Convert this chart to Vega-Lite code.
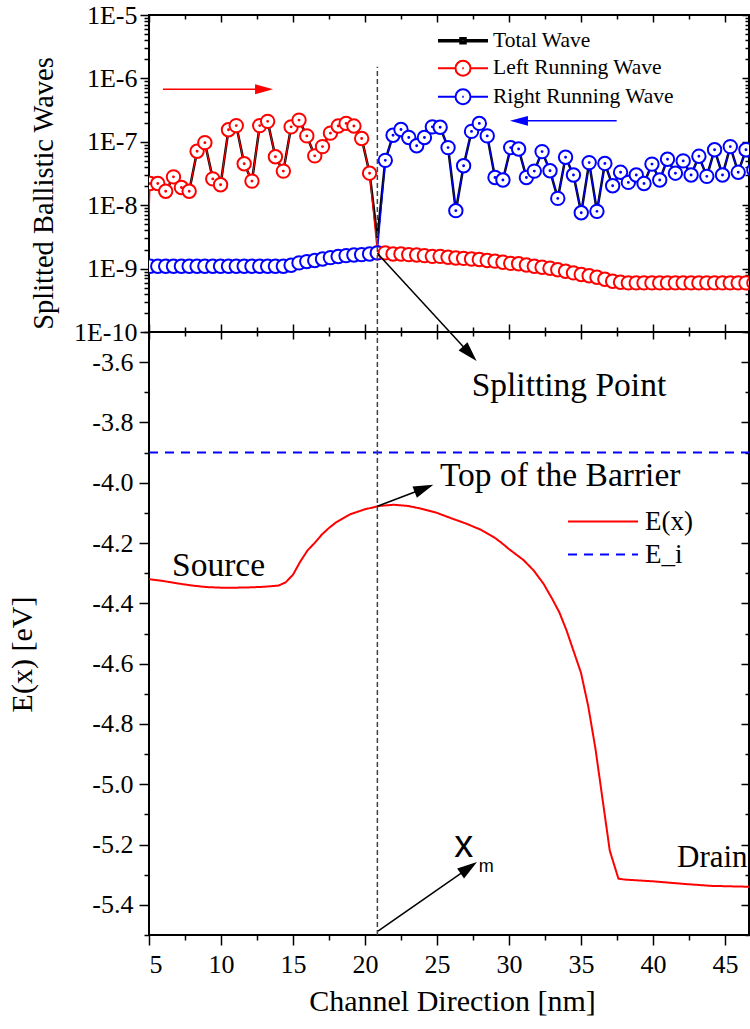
{
  "$schema": "https://vega.github.io/schema/vega-lite/v6.json",
  "background": "white",
  "padding": {"left": 6, "top": 1, "right": 0, "bottom": 0},
  "spacing": 0,
  "bounds": "flush",
  "config": {
    "font": "Liberation Serif",
    "view": {"stroke": "black", "strokeWidth": 2},
    "axis": {"grid": false, "domain": false, "labelFont": "Liberation Serif", "labelFontSize": 26, "labelColor": "black", "tickColor": "black", "tickWidth": 1.5, "titleFont": "Liberation Serif", "titleFontSize": 28, "titleFontWeight": "normal", "titleColor": "black"},
    "legend": {"labelFont": "Liberation Serif", "labelColor": "black", "padding": 0, "labelLimit": 400}
  },
  "resolve": {"scale": {"stroke": "independent", "strokeDash": "independent"}, "legend": {"stroke": "independent", "strokeDash": "independent"}},
  "datasets": {
    "waves": [
      {"x":4.53,"L":1e-12,"R":1.09e-9},
      {"x":5.07,"T":2.2e-8,"L":2.2e-8,"R":1.09e-9},
      {"x":5.61,"T":2.2e-8,"L":2.2e-8,"R":1.09e-9},
      {"x":6.16,"T":1.66e-8,"L":1.66e-8,"R":1.09e-9},
      {"x":6.70,"T":2.8e-8,"L":2.8e-8,"R":1.09e-9},
      {"x":7.25,"T":1.9e-8,"L":1.9e-8,"R":1.09e-9},
      {"x":7.79,"T":1.66e-8,"L":1.66e-8,"R":1.09e-9},
      {"x":8.34,"T":7.1e-8,"L":7.1e-8,"R":1.09e-9},
      {"x":8.88,"T":9.7e-8,"L":9.7e-8,"R":1.09e-9},
      {"x":9.43,"T":2.6e-8,"L":2.6e-8,"R":1.09e-9},
      {"x":9.97,"T":2.1e-8,"L":2.1e-8,"R":1.09e-9},
      {"x":10.52,"T":1.55e-7,"L":1.55e-7,"R":1.09e-9},
      {"x":11.06,"T":1.8e-7,"L":1.8e-7,"R":1.09e-9},
      {"x":11.61,"T":4.5e-8,"L":4.5e-8,"R":1.09e-9},
      {"x":12.15,"T":2.4e-8,"L":2.4e-8,"R":1.09e-9},
      {"x":12.69,"T":1.8e-7,"L":1.8e-7,"R":1.09e-9},
      {"x":13.24,"T":2.1e-7,"L":2.1e-7,"R":1.09e-9},
      {"x":13.78,"T":5.8e-8,"L":5.8e-8,"R":1.09e-9},
      {"x":14.33,"T":3.45e-8,"L":3.45e-8,"R":1.09e-9},
      {"x":14.87,"T":1.72e-7,"L":1.72e-7,"R":1.13e-9},
      {"x":15.42,"T":2.2e-7,"L":2.2e-7,"R":1.23e-9},
      {"x":15.96,"T":1.24e-7,"L":1.24e-7,"R":1.29e-9},
      {"x":16.51,"T":6.0e-8,"L":6.0e-8,"R":1.34e-9},
      {"x":17.05,"T":8.4e-8,"L":8.4e-8,"R":1.42e-9},
      {"x":17.60,"T":1.37e-7,"L":1.37e-7,"R":1.49e-9},
      {"x":18.14,"T":1.77e-7,"L":1.77e-7,"R":1.55e-9},
      {"x":18.69,"T":1.95e-7,"L":1.95e-7,"R":1.60e-9},
      {"x":19.23,"T":1.77e-7,"L":1.77e-7,"R":1.64e-9},
      {"x":19.77,"T":1.13e-7,"L":1.13e-7,"R":1.66e-9},
      {"x":20.32,"T":3.2e-8,"L":3.2e-8,"R":1.70e-9},
      {"x":20.86,"T":3.0e-9,"L":1.77e-9,"R":1.77e-9},
      {"x":21.41,"T":5.1e-8,"L":1.77e-9,"R":5.1e-8},
      {"x":21.95,"T":1.27e-7,"L":1.70e-9,"R":1.27e-7},
      {"x":22.50,"T":1.56e-7,"L":1.70e-9,"R":1.56e-7},
      {"x":23.04,"T":1.17e-7,"L":1.66e-9,"R":1.17e-7},
      {"x":23.59,"T":8.65e-8,"L":1.64e-9,"R":8.65e-8},
      {"x":24.13,"T":1.17e-7,"L":1.60e-9,"R":1.17e-7},
      {"x":24.68,"T":1.72e-7,"L":1.56e-9,"R":1.72e-7},
      {"x":25.22,"T":1.70e-7,"L":1.56e-9,"R":1.70e-7},
      {"x":25.77,"T":8.1e-8,"L":1.51e-9,"R":8.1e-8},
      {"x":26.31,"T":8.2e-9,"L":1.47e-9,"R":8.2e-9},
      {"x":26.85,"T":4.2e-8,"L":1.45e-9,"R":4.2e-8},
      {"x":27.40,"T":1.46e-7,"L":1.42e-9,"R":1.46e-7},
      {"x":27.94,"T":1.95e-7,"L":1.39e-9,"R":1.95e-7},
      {"x":28.49,"T":1.24e-7,"L":1.34e-9,"R":1.24e-7},
      {"x":29.03,"T":2.74e-8,"L":1.31e-9,"R":2.74e-8},
      {"x":29.58,"T":2.5e-8,"L":1.26e-9,"R":2.5e-8},
      {"x":30.12,"T":8.1e-8,"L":1.21e-9,"R":8.1e-8},
      {"x":30.67,"T":7.7e-8,"L":1.19e-9,"R":7.7e-8},
      {"x":31.21,"T":2.74e-8,"L":1.14e-9,"R":2.74e-8},
      {"x":31.76,"T":3.45e-8,"L":1.09e-9,"R":3.45e-8},
      {"x":32.30,"T":7.0e-8,"L":1.05e-9,"R":7.0e-8},
      {"x":32.85,"T":3.5e-8,"L":1.01e-9,"R":3.5e-8},
      {"x":33.39,"T":1.28e-8,"L":9.6e-10,"R":1.28e-8},
      {"x":33.93,"T":5.7e-8,"L":9.1e-10,"R":5.7e-8},
      {"x":34.48,"T":3.0e-8,"L":8.55e-10,"R":3.0e-8},
      {"x":35.02,"T":7.6e-9,"L":8.05e-10,"R":7.6e-9},
      {"x":35.57,"T":4.7e-8,"L":7.7e-10,"R":4.7e-8},
      {"x":36.11,"T":8.0e-9,"L":7.3e-10,"R":8.0e-9},
      {"x":36.66,"T":4.56e-8,"L":6.8e-10,"R":4.56e-8},
      {"x":37.20,"T":2.03e-8,"L":6.3e-10,"R":2.03e-8},
      {"x":37.75,"T":3.3e-8,"L":6.1e-10,"R":3.3e-8},
      {"x":38.29,"T":2.29e-8,"L":5.95e-10,"R":2.29e-8},
      {"x":38.84,"T":3.0e-8,"L":5.95e-10,"R":3.0e-8},
      {"x":39.38,"T":2.2e-8,"L":5.95e-10,"R":2.2e-8},
      {"x":39.93,"T":4.45e-8,"L":5.95e-10,"R":4.45e-8},
      {"x":40.47,"T":2.5e-8,"L":5.95e-10,"R":2.5e-8},
      {"x":41.01,"T":5.3e-8,"L":5.95e-10,"R":5.3e-8},
      {"x":41.56,"T":3.2e-8,"L":5.95e-10,"R":3.2e-8},
      {"x":42.10,"T":5.0e-8,"L":5.95e-10,"R":5.0e-8},
      {"x":42.65,"T":3.0e-8,"L":5.95e-10,"R":3.0e-8},
      {"x":43.19,"T":5.9e-8,"L":5.95e-10,"R":5.9e-8},
      {"x":43.74,"T":2.85e-8,"L":5.95e-10,"R":2.85e-8},
      {"x":44.28,"T":7.5e-8,"L":5.95e-10,"R":7.5e-8},
      {"x":44.83,"T":3.0e-8,"L":5.95e-10,"R":3.0e-8},
      {"x":45.37,"T":8.4e-8,"L":5.95e-10,"R":8.4e-8},
      {"x":45.92,"T":3.3e-8,"L":5.95e-10,"R":3.3e-8},
      {"x":46.46,"T":7.5e-8,"L":5.95e-10,"R":7.5e-8},
      {"x":47.01,"T":3.6e-8,"L":5.95e-10,"R":3.6e-8}
    ],
    "arrowsTop": [
      {"id":"red","x":5.97,"xe":12.99,"y":6.76e-7},
      {"id":"blue","x":37.48,"xe":30.69,"y":2.14e-7}
    ],
    "energy": [
      {"x":5,"E":-4.32,"name":"E(x)"},{"x":6,"E":-4.326,"name":"E(x)"},{"x":7,"E":-4.334,"name":"E(x)"},{"x":8,"E":-4.341,"name":"E(x)"},
      {"x":9,"E":-4.346,"name":"E(x)"},{"x":10,"E":-4.348,"name":"E(x)"},{"x":11,"E":-4.348,"name":"E(x)"},{"x":12,"E":-4.347,"name":"E(x)"},
      {"x":13,"E":-4.345,"name":"E(x)"},{"x":14,"E":-4.341,"name":"E(x)"},{"x":14.5,"E":-4.33,"name":"E(x)"},{"x":15,"E":-4.305,"name":"E(x)"},
      {"x":15.5,"E":-4.262,"name":"E(x)"},{"x":16,"E":-4.225,"name":"E(x)"},{"x":16.5,"E":-4.2,"name":"E(x)"},{"x":17,"E":-4.172,"name":"E(x)"},
      {"x":17.5,"E":-4.15,"name":"E(x)"},{"x":18,"E":-4.131,"name":"E(x)"},{"x":19,"E":-4.104,"name":"E(x)"},{"x":20,"E":-4.088,"name":"E(x)"},
      {"x":21,"E":-4.077,"name":"E(x)"},{"x":22,"E":-4.073,"name":"E(x)"},{"x":23,"E":-4.077,"name":"E(x)"},{"x":24,"E":-4.087,"name":"E(x)"},
      {"x":25,"E":-4.1,"name":"E(x)"},{"x":26,"E":-4.118,"name":"E(x)"},{"x":27,"E":-4.135,"name":"E(x)"},{"x":28,"E":-4.155,"name":"E(x)"},
      {"x":29,"E":-4.182,"name":"E(x)"},{"x":29.5,"E":-4.2,"name":"E(x)"},{"x":30,"E":-4.22,"name":"E(x)"},{"x":31,"E":-4.256,"name":"E(x)"},
      {"x":31.7,"E":-4.29,"name":"E(x)"},{"x":32.4,"E":-4.335,"name":"E(x)"},{"x":33,"E":-4.385,"name":"E(x)"},{"x":33.5,"E":-4.43,"name":"E(x)"},
      {"x":34,"E":-4.49,"name":"E(x)"},{"x":34.5,"E":-4.56,"name":"E(x)"},{"x":35,"E":-4.63,"name":"E(x)"},{"x":35.5,"E":-4.74,"name":"E(x)"},
      {"x":36,"E":-4.88,"name":"E(x)"},{"x":36.5,"E":-5.05,"name":"E(x)"},{"x":37,"E":-5.22,"name":"E(x)"},{"x":37.6,"E":-5.313,"name":"E(x)"},
      {"x":38,"E":-5.316,"name":"E(x)"},{"x":40,"E":-5.322,"name":"E(x)"},{"x":42,"E":-5.33,"name":"E(x)"},{"x":44,"E":-5.337,"name":"E(x)"},
      {"x":46.7,"E":-5.34,"name":"E(x)"},
      {"x":5,"E":-3.9,"name":"E_i"},{"x":46.7,"E":-3.9,"name":"E_i"}
    ],
    "arrowsBottom": [
      {"id":"split","x":20.86,"y":-3.239,"xe":27.28,"ye":-3.572},
      {"id":"barrier","x":20.86,"y":-4.078,"xe":24.10,"ye":-4.019},
      {"id":"xm","x":20.9,"y":-5.487,"xe":27.21,"ye":-5.277}
    ],
    "notes": [
      {"t":"Splitting Point","x":27.41,"y":-3.712},
      {"t":"Top of the Barrier","x":25.21,"y":-4.011},
      {"t":"Source","x":6.6,"y":-4.31},
      {"t":"Drain","x":41.67,"y":-5.273}
    ],
    "xm": [
      {"t":"x","x":26.2,"y":-5.24},
      {"t":"m","x":27.9,"y":-5.29}
    ]
  },
  "vconcat": [
    {
      "width": 600,
      "height": 317,
      "resolve": {"axis": {"x": "independent", "y": "independent"}},
      "layer": [
        {
          "data": {"name": "waves"},
          "transform": [{"fold": ["T", "L", "R"], "as": ["key", "v"]}, {"filter": "datum.key == 'T'"}],
          "mark": {"type": "line", "strokeWidth": 2.5, "clip": true},
          "encoding": {
            "x": {"field": "x", "type": "quantitative", "scale": {"domain": [5, 46.67], "nice": false, "zero": false},
              "axis": {"orient": "bottom", "values": [5,7.5,10,12.5,15,17.5,20,22.5,25,27.5,30,32.5,35,37.5,40,42.5,45], "labels": false, "title": null,
                "tickSize": {"condition": {"test": "datum.value % 5 == 0", "value": -8}, "value": -5}}},
            "y": {"field": "v", "type": "quantitative", "scale": {"type": "log", "domain": [1e-10, 1e-5], "nice": false},
              "axis": {"orient": "left", "title": "Splitted Ballistic Waves", "titleFont": "Liberation Serif", "titleFontSize": 28.5, "titleX": -97, "titleY": 178, "titleBaseline": "alphabetic", "titleAngle": -90, "titleAlign": "center",
                "labelFont": "Liberation Serif", "labelFontSize": 26, "labelPadding": 3,
                "values": [1e-10,2e-10,3e-10,4e-10,5e-10,6e-10,7e-10,8e-10,9e-10,1e-9,2e-9,3e-9,4e-9,5e-9,6e-9,7e-9,8e-9,9e-9,1e-8,2e-8,3e-8,4e-8,5e-8,6e-8,7e-8,8e-8,9e-8,1e-7,2e-7,3e-7,4e-7,5e-7,6e-7,7e-7,8e-7,9e-7,1e-6,2e-6,3e-6,4e-6,5e-6,6e-6,7e-6,8e-6,9e-6,1e-5],
                "labelExpr": "abs(log(datum.value)/LN10 - round(log(datum.value)/LN10)) < 0.01 ? '1E' + round(log(datum.value)/LN10) : ''",
                "tickSize": {"condition": {"test": "abs(log(datum.value)/LN10 - round(log(datum.value)/LN10)) < 0.01", "value": 9}, "value": 5}}},
            "stroke": {"field": "key", "type": "nominal", "scale": {"domain": ["T", "L", "R"], "range": ["black", "red", "blue"]},
              "legend": {"title": null, "orient": "none", "legendX": 289, "legendY": 15, "labelFont": "Liberation Serif", "labelFontSize": 21.5, "labelOffset": 6, "rowPadding": 4.5,
                "symbolSize": 2500, "symbolStrokeWidth": 2, "symbolFillColor": "white", "symbolOpacity": 1,
                "labelExpr": "datum.label == 'T' ? 'Total Wave' : datum.label == 'L' ? 'Left Running Wave' : 'Right Running Wave'",
                "encode": {
                  "symbols": {"update": {
                    "x": {"value": 25},
                    "shape": {"signal": "datum.value == 'T' ? 'M-1,0L-0.08,0M0.08,0L1,0M-0.08,-0.08L0.08,-0.08L0.08,0.08L-0.08,0.08Z' : 'M-1,0L-0.3,0M0.3,0L1,0M-0.3,0A0.3,0.3,0,1,1,0.3,0A0.3,0.3,0,1,1,-0.3,0M-0.03,0L0.03,0'"},
                    "strokeWidth": {"signal": "datum.value == 'T' ? 3.5 : 2"},
                    "fill": {"value": "white"}}},
                  "labels": {"update": {"x": {"value": 55}}}}}}
          }
        },
        {
          "data": {"name": "waves"},
          "transform": [{"fold": ["T", "L", "R"], "as": ["key", "v"]}, {"filter": "datum.key != 'T'"}],
          "mark": {"type": "line", "strokeWidth": 1.2, "clip": true},
          "encoding": {
            "x": {"field": "x", "type": "quantitative", "scale": {"domain": [5, 46.67], "nice": false, "zero": false}, "axis": null},
            "y": {"field": "v", "type": "quantitative", "scale": {"type": "log", "domain": [1e-10, 1e-5], "nice": false}, "axis": null},
            "stroke": {"field": "key", "type": "nominal", "scale": {"domain": ["T", "L", "R"], "range": ["black", "red", "blue"]}}
          }
        },
        {
          "data": {"name": "waves"},
          "transform": [{"fold": ["T", "L", "R"], "as": ["key", "v"]}, {"filter": "datum.key != 'T'"}],
          "mark": {"type": "point", "shape": "circle", "size": 180, "filled": true, "fill": "white", "strokeWidth": 2, "opacity": 1, "clip": true},
          "encoding": {
            "x": {"field": "x", "type": "quantitative", "scale": {"domain": [5, 46.67], "nice": false, "zero": false}, "axis": null},
            "y": {"field": "v", "type": "quantitative", "scale": {"type": "log", "domain": [1e-10, 1e-5], "nice": false}, "axis": null},
            "stroke": {"field": "key", "type": "nominal", "scale": {"domain": ["T", "L", "R"], "range": ["black", "red", "blue"]}}
          }
        },
        {
          "data": {"name": "waves"},
          "transform": [{"fold": ["T", "L", "R"], "as": ["key", "v"]}, {"filter": "(datum.key == 'L' && datum.x < 20.5) || (datum.key == 'R' && datum.x > 21)"}],
          "mark": {"type": "point", "shape": "circle", "size": 2, "filled": false, "strokeWidth": 1.5, "opacity": 1, "clip": true},
          "encoding": {
            "x": {"field": "x", "type": "quantitative", "scale": {"domain": [5, 46.67], "nice": false, "zero": false}, "axis": null},
            "y": {"field": "v", "type": "quantitative", "scale": {"type": "log", "domain": [1e-10, 1e-5], "nice": false}, "axis": null},
            "stroke": {"field": "key", "type": "nominal", "scale": {"domain": ["T", "L", "R"], "range": ["black", "red", "blue"]}}
          }
        },
        {
          "data": {"values": [{"x": 20.86, "y": 1e-10, "y2": 1.53e-6}]},
          "mark": {"type": "rule", "color": "#444444", "strokeWidth": 1.5, "strokeDash": [5, 3]},
          "encoding": {
            "x": {"field": "x", "type": "quantitative", "scale": {"domain": [5, 46.67], "nice": false, "zero": false},
              "axis": {"orient": "top", "values": [5,7.5,10,12.5,15,17.5,20,22.5,25,27.5,30,32.5,35,37.5,40,42.5,45], "labels": false, "title": null,
                "tickSize": {"condition": {"test": "datum.value % 5 == 0", "value": -7}, "value": -4}}},
            "y": {"field": "y", "type": "quantitative", "scale": {"type": "log", "domain": [1e-10, 1e-5], "nice": false},
              "axis": {"orient": "right", "labels": false, "title": null,
                "values": [1e-10,2e-10,3e-10,4e-10,5e-10,6e-10,7e-10,8e-10,9e-10,1e-9,2e-9,3e-9,4e-9,5e-9,6e-9,7e-9,8e-9,9e-9,1e-8,2e-8,3e-8,4e-8,5e-8,6e-8,7e-8,8e-8,9e-8,1e-7,2e-7,3e-7,4e-7,5e-7,6e-7,7e-7,8e-7,9e-7,1e-6,2e-6,3e-6,4e-6,5e-6,6e-6,7e-6,8e-6,9e-6,1e-5],
                "tickSize": {"condition": {"test": "abs(log(datum.value)/LN10 - round(log(datum.value)/LN10)) < 0.01", "value": -7}, "value": -4}}},
            "y2": {"field": "y2"}
          }
        },
        {
          "data": {"name": "arrowsTop"},
          "mark": {"type": "rule", "strokeWidth": 1.5},
          "encoding": {
            "x": {"field": "x", "type": "quantitative", "scale": {"domain": [5, 46.67], "nice": false, "zero": false}, "axis": null},
            "x2": {"field": "xe"},
            "y": {"field": "y", "type": "quantitative", "scale": {"type": "log", "domain": [1e-10, 1e-5], "nice": false}, "axis": null},
            "stroke": {"condition": {"test": "datum.id == 'red'", "value": "red"}, "value": "blue"}
          }
        },
        {
          "data": {"name": "arrowsTop"},
          "mark": {"type": "point", "shape": "M1,0L-1,-0.55L-1,0.55Z", "size": 324, "filled": true, "opacity": 1, "strokeWidth": 0},
          "encoding": {
            "x": {"field": "xe", "type": "quantitative", "scale": {"domain": [5, 46.67], "nice": false, "zero": false}, "axis": null},
            "y": {"field": "y", "type": "quantitative", "scale": {"type": "log", "domain": [1e-10, 1e-5], "nice": false}, "axis": null},
            "fill": {"condition": {"test": "datum.id == 'red'", "value": "red"}, "value": "blue"},
            "angle": {"condition": {"test": "datum.id == 'red'", "value": 0}, "value": 180}
          }
        }
      ]
    },
    {
      "width": 600,
      "height": 603,
      "resolve": {"axis": {"x": "independent", "y": "independent"}},
      "layer": [
        {
          "data": {"name": "energy"},
          "mark": {"type": "line", "strokeWidth": 2, "clip": true},
          "encoding": {
            "x": {"field": "x", "type": "quantitative", "scale": {"domain": [5, 46.67], "nice": false, "zero": false},
              "axis": {"orient": "bottom", "values": [5,7.5,10,12.5,15,17.5,20,22.5,25,27.5,30,32.5,35,37.5,40,42.5,45],
                "labelFont": "Liberation Serif", "labelFontSize": 26, "labelPadding": 6,
                "labelExpr": "datum.value % 5 == 0 ? datum.value : ''",
                "tickSize": {"condition": {"test": "datum.value % 5 == 0", "value": 10}, "value": 5},
                "title": "Channel Direction [nm]", "titleFont": "Liberation Serif", "titleFontSize": 30, "titleBaseline": "alphabetic", "titleY": 75, "titleX": 303}},
            "y": {"field": "E", "type": "quantitative", "scale": {"domain": [-5.5, -3.5], "nice": false, "zero": false},
              "axis": {"orient": "left", "values": [-5.5,-5.4,-5.3,-5.2,-5.1,-5,-4.9,-4.8,-4.7,-4.6,-4.5,-4.4,-4.3,-4.2,-4.1,-4,-3.9,-3.8,-3.7,-3.6,-3.5],
                "labelFont": "Liberation Serif", "labelFontSize": 26, "labelPadding": 6,
                "labelExpr": "round(datum.value*10) % 2 == 0 ? replace(format(datum.value, '.1f'), '\u2212', '-') : ''",
                "tickSize": {"condition": {"test": "round(datum.value*10) % 2 == 0", "value": 10}, "value": 5},
                "title": "E(x) [eV]", "titleFont": "Liberation Serif", "titleFontSize": 30, "titleX": -118, "titleY": 322, "titleBaseline": "alphabetic", "titleAngle": -90, "titleAlign": "center"}},
            "stroke": {"field": "name", "type": "nominal", "scale": {"domain": ["E(x)", "E_i"], "range": ["red", "blue"]},
              "legend": {"title": null, "orient": "none", "legendX": 419, "legendY": 176, "labelFont": "Liberation Serif", "labelFontSize": 27, "rowPadding": 5,
                "symbolType": "M-3.5,0L3.5,0", "symbolSize": 400, "symbolStrokeWidth": 2,
                "encode": {"symbols": {"update": {"x": {"value": 35}}}, "labels": {"update": {"x": {"value": 77}}}}}},
            "strokeDash": {"field": "name", "type": "nominal", "scale": {"domain": ["E(x)", "E_i"], "range": [[1, 0], [9, 7]]},
              "legend": {"title": null, "orient": "none", "legendX": 419, "legendY": 176, "labelFont": "Liberation Serif", "labelFontSize": 27, "rowPadding": 5,
                "symbolType": "M-3.5,0L3.5,0", "symbolSize": 400, "symbolStrokeWidth": 2,
                "encode": {"symbols": {"update": {"x": {"value": 35}}}, "labels": {"update": {"x": {"value": 77}}}}}}
          }
        },
        {
          "data": {"values": [{"x": 20.86, "y": -5.5, "y2": -3.5}]},
          "mark": {"type": "rule", "color": "#444444", "strokeWidth": 1.5, "strokeDash": [5, 3]},
          "encoding": {
            "x": {"field": "x", "type": "quantitative", "scale": {"domain": [5, 46.67], "nice": false, "zero": false},
              "axis": {"orient": "top", "values": [5,7.5,10,12.5,15,17.5,20,22.5,25,27.5,30,32.5,35,37.5,40,42.5,45], "labels": false, "title": null,
                "tickSize": {"condition": {"test": "datum.value % 5 == 0", "value": -7}, "value": -4}}},
            "y": {"field": "y", "type": "quantitative", "scale": {"domain": [-5.5, -3.5], "nice": false, "zero": false},
              "axis": {"orient": "right", "labels": false, "title": null,
                "values": [-5.5,-5.4,-5.3,-5.2,-5.1,-5,-4.9,-4.8,-4.7,-4.6,-4.5,-4.4,-4.3,-4.2,-4.1,-4,-3.9,-3.8,-3.7,-3.6,-3.5],
                "tickSize": {"condition": {"test": "round(datum.value*10) % 2 == 0", "value": -8}, "value": -4}}},
            "y2": {"field": "y2"}
          }
        },
        {
          "data": {"name": "arrowsBottom"},
          "mark": {"type": "rule", "color": "black", "strokeWidth": 1.5},
          "encoding": {
            "x": {"field": "x", "type": "quantitative", "scale": {"domain": [5, 46.67], "nice": false, "zero": false}, "axis": null},
            "x2": {"field": "xe"},
            "y": {"field": "y", "type": "quantitative", "scale": {"domain": [-5.5, -3.5], "nice": false, "zero": false}, "axis": null},
            "y2": {"field": "ye"}
          }
        },
        {
          "data": {"name": "arrowsBottom"},
          "mark": {"type": "point", "shape": "M1,0L-1,-0.6L-1,0.6Z", "size": 400, "filled": true, "color": "black", "opacity": 1, "strokeWidth": 0},
          "encoding": {
            "x": {"field": "xe", "type": "quantitative", "scale": {"domain": [5, 46.67], "nice": false, "zero": false}, "axis": null},
            "y": {"field": "ye", "type": "quantitative", "scale": {"domain": [-5.5, -3.5], "nice": false, "zero": false}, "axis": null},
            "angle": {"condition": [{"test": "datum.id == 'split'", "value": 47.3}, {"test": "datum.id == 'barrier'", "value": 338.6}], "value": 325.1}
          }
        },
        {
          "data": {"name": "notes"},
          "mark": {"type": "text", "font": "Liberation Serif", "align": "left", "baseline": "alphabetic", "color": "black"},
          "encoding": {
            "x": {"field": "x", "type": "quantitative", "scale": {"domain": [5, 46.67], "nice": false, "zero": false}, "axis": null},
            "y": {"field": "y", "type": "quantitative", "scale": {"domain": [-5.5, -3.5], "nice": false, "zero": false}, "axis": null},
            "text": {"field": "t"},
            "size": {"condition": {"test": "datum.t == 'Drain'", "value": 31}, "value": 33.5}
          }
        },
        {
          "data": {"name": "xm"},
          "mark": {"type": "text", "font": "Liberation Sans", "align": "left", "baseline": "alphabetic", "color": "black"},
          "encoding": {
            "x": {"field": "x", "type": "quantitative", "scale": {"domain": [5, 46.67], "nice": false, "zero": false}, "axis": null},
            "y": {"field": "y", "type": "quantitative", "scale": {"domain": [-5.5, -3.5], "nice": false, "zero": false}, "axis": null},
            "text": {"field": "t"},
            "size": {"condition": {"test": "datum.t == 'x'", "value": 38}, "value": 18}
          }
        }
      ]
    }
  ]
}
